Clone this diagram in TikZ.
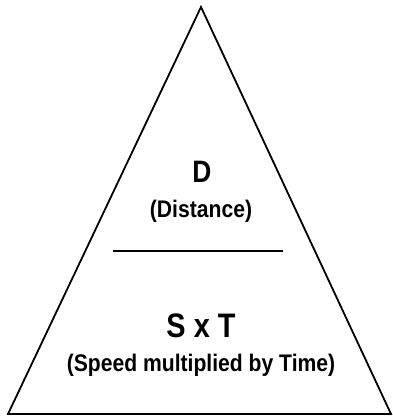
\documentclass[tikz,border=0pt]{standalone}
\usepackage{fontspec}
\setmainfont{Liberation Sans}
\newfontfamily\bignarrow{Liberation Sans}[UprightFont=*-Bold,FakeStretch=0.85]
\newfontfamily\smallnarrow{Liberation Sans}[UprightFont=*-Bold,FakeStretch=0.88]
\begin{document}
\begin{tikzpicture}[x=1pt,y=-1pt,
  edge/.style={line width=1.8pt,line join=miter},
  rule/.style={line width=1.5pt},
  big/.style={anchor=base,inner sep=0pt,font=\bignarrow\fontsize{31}{31}\selectfont},
  bigger/.style={anchor=base,inner sep=0pt,font=\bignarrow\fontsize{34}{34}\selectfont},
  small/.style={anchor=base,inner sep=0pt,font=\smallnarrow\fontsize{24}{24}\selectfont}]
\useasboundingbox (0,0) rectangle (392,418);
\coordinate (apex) at (201,7);
\coordinate (bl) at (8,414);
\coordinate (br) at (391,414);
\coordinate (ml) at (113,251);
\coordinate (mr) at (283,251);
\draw[edge] (apex) -- (br) -- (bl) -- cycle;
\draw[rule] (ml) -- (mr);
\node[big] (d) at (202,182) {D};
\node[small] (dist) at (201,217) {(Distance)};
\node[bigger] (sxt) at (201,337) {S x T};
\node[small] (speed) at (201,371) {(Speed multiplied by Time)};
\end{tikzpicture}
\end{document}
